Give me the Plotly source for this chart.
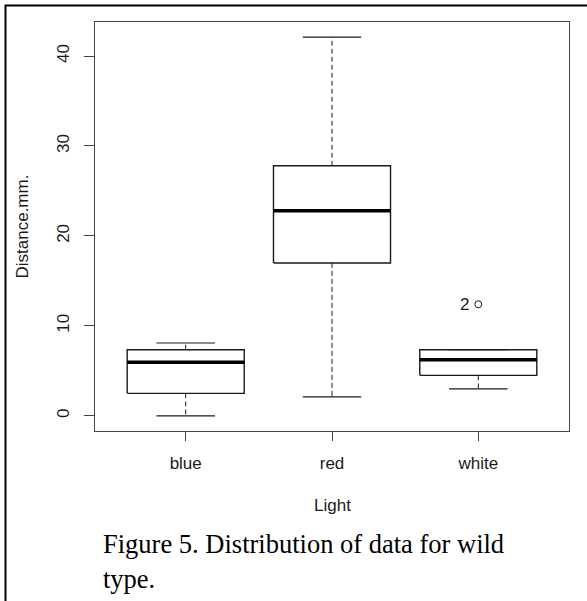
import plotly.graph_objects as go

# values (Distance.mm. by Light)
categories = ["blue", "red", "white"]
lower_whisker = [0.0, 2.1, 3.0]
q1 = [2.5, 17.0, 4.5]
median = [5.95, 22.8, 6.25]
q3 = [7.35, 27.8, 7.35]
upper_whisker = [8.1, 42.1, 7.35]
outlier_cat = ["white"]
outlier_y = [12.4]
outlier_label = ["2"]

y_ticks = [0, 10, 20, 30, 40]

sans = "Liberation Sans, Arial, sans-serif"
serif = "Liberation Serif, Times New Roman, serif"
ink = "#1a1a1a"

pos = {c: i + 1 for i, c in enumerate(categories)}
hw = 0.4  # half box width (R boxwex 0.8)

box_x, box_y, med_x, med_y = [], [], [], []
wh_x, wh_y, cap_x, cap_y = [], [], [], []
for c, lo, a, m, b, hi in zip(categories, lower_whisker, q1, median, q3, upper_whisker):
    p = pos[c]
    box_x += [p - hw, p + hw, p + hw, p - hw, p - hw, None]
    box_y += [a, a, b, b, a, None]
    med_x += [p - hw, p + hw, None]
    med_y += [m, m, None]
    wh_x += [p, p, None, p, p, None]
    wh_y += [b, hi, None, a, lo, None]
    cap_x += [p - hw / 2, p + hw / 2, None, p - hw / 2, p + hw / 2, None]
    cap_y += [hi, hi, None, lo, lo, None]

fig = go.Figure()
fig.add_trace(go.Scatter(x=wh_x, y=wh_y, mode="lines",
                         line=dict(color=ink, width=1, dash="5px,3px")))
fig.add_trace(go.Scatter(x=cap_x, y=cap_y, mode="lines", line=dict(color=ink, width=1.2)))
fig.add_trace(go.Scatter(x=box_x, y=box_y, mode="lines", line=dict(color=ink, width=1.4)))
fig.add_trace(go.Scatter(x=med_x, y=med_y, mode="lines", line=dict(color="black", width=3.5)))
fig.add_trace(go.Scatter(
    x=[pos[c] for c in outlier_cat], y=outlier_y, mode="markers",
    marker=dict(symbol="circle-open", size=7, color=ink, line=dict(width=1)),
))
# outlier labels, set a little left of the point
for c, v, lab in zip(outlier_cat, outlier_y, outlier_label):
    fig.add_annotation(x=pos[c], y=v, text=lab, xanchor="right", yanchor="middle",
                       xshift=-7, showarrow=False, font=dict(family=sans, size=17, color=ink))

n = len(categories)
lo_all = min(lower_whisker + outlier_y)
hi_all = max(upper_whisker + outlier_y)
pad = 0.04 * (hi_all - lo_all)

fig.update_layout(
    width=587, height=601,
    margin=dict(l=95, r=18, t=22, b=170),
    paper_bgcolor="white", plot_bgcolor="white",
    showlegend=False,
    font=dict(family=sans, size=17, color=ink),
)
fig.update_xaxes(
    range=[0.5 - 0.04 * n, n + 0.5 + 0.04 * n],
    tickvals=[pos[c] for c in categories], ticktext=categories,
    ticks="outside", ticklen=9, tickcolor="#444", ticklabelstandoff=8,
    showline=True, mirror=True, linecolor="#444", linewidth=1,
    showgrid=False, zeroline=False,
)
fig.update_yaxes(
    range=[lo_all - pad, hi_all + pad],
    tickvals=y_ticks, tickangle=-90,
    ticks="outside", ticklen=10, tickcolor="#444", ticklabelstandoff=8,
    showline=True, mirror=True, linecolor="#444", linewidth=1,
    showgrid=False, zeroline=False,
)

# axis titles
fig.add_annotation(text="Light", xref="paper", yref="paper", x=0.5, y=0,
                   xanchor="center", yanchor="middle", yshift=-74, showarrow=False)
fig.add_annotation(text="Distance.mm.", xref="paper", yref="paper", x=0, y=0.5,
                   xanchor="center", yanchor="middle", xshift=-73, textangle=-90,
                   showarrow=False)

# caption below the chart
cap_font = dict(family=serif, size=26.5, color="black")
fig.add_annotation(text="Figure 5. Distribution of data for wild", xref="paper", yref="paper",
                   x=0, y=0, xanchor="left", yanchor="middle", xshift=6, yshift=-113,
                   showarrow=False, font=cap_font)
fig.add_annotation(text="type.", xref="paper", yref="paper",
                   x=0, y=0, xanchor="left", yanchor="middle", xshift=6, yshift=-148,
                   showarrow=False, font=cap_font)

# outer frame of the figure (left and top edges visible)
fig.add_shape(type="rect", xref="paper", yref="paper",
              x0=(5.5 - 95) / 474, x1=1.1, y0=-0.5, y1=(431 - 5.5) / 409,
              line=dict(color="black", width=2), layer="above")

fig.write_html("out.html", config={"displayModeBar": False},
               post_script="document.body.style.margin='0';")
